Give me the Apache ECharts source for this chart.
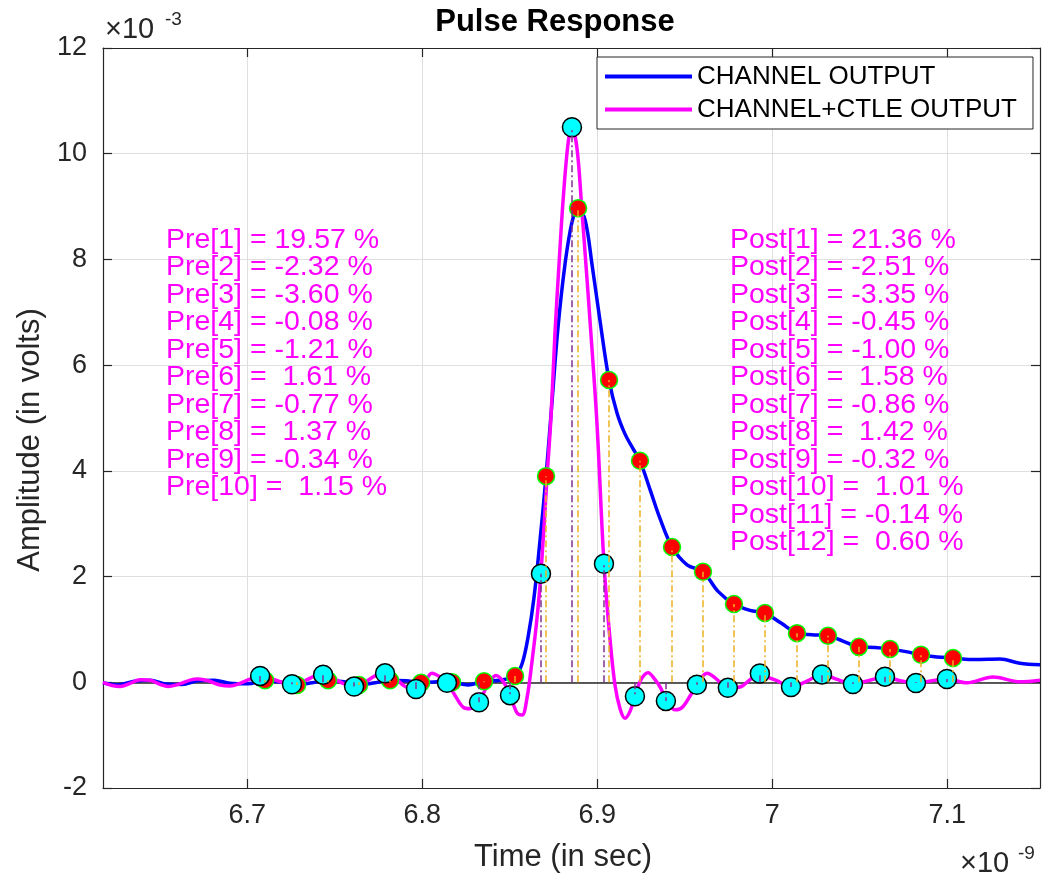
<!DOCTYPE html>
<html>
<head>
<meta charset="utf-8">
<script src="https://cdn.jsdelivr.net/npm/echarts@6/dist/echarts.min.js"></script>
<style>
  html, body { margin: 0; padding: 0; background: #fff; }
  #chart { width: 1042px; height: 878px; }
</style>
</head>
<body>
<div id="chart"></div>
<script>
  // x in units of 1e-9 s, y in units of 1e-3 V
  const xMin = 6.6175;
  const xMax = 7.153;
  const xTickValues = [6.7, 6.8, 6.9, 7, 7.1];

  // CHANNEL OUTPUT (blue)
  const chanCurveX = [6.6175, 6.6261, 6.6353, 6.6444, 6.6535, 6.6627, 6.6718, 6.6810, 6.6901, 6.7004,
    6.7101, 6.7193, 6.7284, 6.7370, 6.7461, 6.7553, 6.7638, 6.7730, 6.7815, 6.7907,
    6.7993, 6.8084, 6.8170, 6.8261, 6.8353, 6.8444, 6.8530, 6.8570, 6.8604, 6.8638,
    6.8673, 6.8707, 6.8741, 6.8775, 6.8815, 6.8855, 6.8890, 6.8930, 6.8970, 6.9015,
    6.9067, 6.9113, 6.9158, 6.9204, 6.9244, 6.9301, 6.9358, 6.9427, 6.9513, 6.9604,
    6.9690, 6.9781, 6.9873, 6.9958, 7.0050, 7.0141, 7.0227, 7.0318, 7.0404, 7.0495,
    7.0587, 7.0673, 7.0764, 7.0850, 7.0941, 7.1033, 7.1158, 7.1301, 7.1415, 7.1530];
  const chanCurveY = [-0.01, -0.05, 0.02, 0.04, -0.03, -0.04, 0.03, 0.04, -0.02, -0.03,
    0.04, 0.00, -0.05, -0.01, 0.04, 0.01, -0.05, -0.01, 0.04, 0.03,
    -0.01, 0.01, 0.00, -0.05, 0.02, 0.04, 0.12, 0.35, 0.85, 1.6,
    2.7, 3.9, 5.3, 6.7, 7.9, 8.7, 8.97, 8.75, 7.9, 6.85,
    5.72, 5.09, 4.7, 4.42, 4.19, 3.65, 3.1, 2.56, 2.22, 2.09,
    1.72, 1.48, 1.36, 1.31, 1.12, 0.93, 0.90, 0.88, 0.78, 0.67,
    0.66, 0.63, 0.58, 0.52, 0.48, 0.46, 0.43, 0.44, 0.36, 0.33];

  // CHANNEL+CTLE OUTPUT (magenta)
  const ctleCurveX = [6.6175, 6.6227, 6.6273, 6.6330, 6.6387, 6.6444, 6.6501, 6.6547, 6.6604, 6.6673,
    6.6718, 6.6775, 6.6844, 6.6901, 6.6958, 6.7015, 6.7073, 6.7130, 6.7187, 6.7255,
    6.7330, 6.7387, 6.7433, 6.7490, 6.7547, 6.7610, 6.7667, 6.7730, 6.7787, 6.7844,
    6.7901, 6.7964, 6.8010, 6.8055, 6.8101, 6.8141, 6.8187, 6.8233, 6.8273, 6.8324,
    6.8376, 6.8421, 6.8461, 6.8501, 6.8541, 6.8570, 6.8598, 6.8627, 6.8655, 6.8678,
    6.8713, 6.8735, 6.8758, 6.8781, 6.8804, 6.8833, 6.8855, 6.8884, 6.8912, 6.8935,
    6.8958, 6.8998, 6.9038, 6.9073, 6.9101, 6.9130, 6.9158, 6.9187, 6.9215, 6.9250,
    6.9290, 6.9330, 6.9364, 6.9392, 6.9444, 6.9484, 6.9530, 6.9569, 6.9627, 6.9678,
    6.9746, 6.9815, 6.9873, 6.9929, 6.9987, 7.0027, 7.0107, 7.0198, 7.0284, 7.0375,
    7.0461, 7.0558, 7.0644, 7.0730, 7.0821, 7.0913, 7.0998, 7.1113, 7.1261, 7.1415, 7.1530];
  const ctleCurveY = [0.00, -0.06, -0.08, -0.02, 0.05, 0.04, -0.04, -0.08, -0.04, 0.04,
    0.06, 0.03, -0.05, -0.07, -0.02, 0.06, 0.12, 0.08, 0.01, -0.04,
    0.03, 0.12, 0.14, 0.08, -0.02, -0.08, -0.01, 0.12, 0.17, 0.08,
    -0.08, -0.13, -0.02, 0.17, 0.10, -0.01, -0.25, -0.47, -0.50, -0.37,
    -0.03, 0.13, 0.02, -0.24, -0.58, -0.62, -0.3, 0.4, 1.2, 2.06,
    3.9, 5.0, 6.6, 7.9, 9.1, 10.2, 10.5, 10.1, 8.93, 7.9,
    6.85, 4.9, 2.25, 0.8, -0.05, -0.5, -0.68, -0.55, -0.26, 0.05,
    0.18, 0.05, -0.12, -0.34, -0.52, -0.48, -0.26, -0.05, 0.17, 0.07,
    -0.11, -0.09, 0.05, 0.17, 0.08, 0.03, -0.09, 0.02, 0.15, 0.05,
    -0.03, 0.04, 0.10, 0.03, -0.02, 0.03, 0.06, -0.01, 0.10, 0.01, 0.04];

  // sampled cursors, channel (red markers)
  const chanSampleX = [6.7101, 6.7284, 6.7461, 6.7638, 6.7815, 6.7993, 6.8170, 6.8353, 6.8530, 6.8707,
    6.8890, 6.9067, 6.9244, 6.9427, 6.9604, 6.9781, 6.9958, 7.0141, 7.0318, 7.0495,
    7.0673, 7.0850, 7.1033];
  const chanSampleY = [0.04, -0.05, 0.04, -0.05, 0.04, -0.01, 0.00, 0.02, 0.12, 3.90,
    8.97, 5.72, 4.19, 2.56, 2.09, 1.48, 1.31, 0.93, 0.88, 0.67,
    0.63, 0.52, 0.46];

  // sampled cursors, channel+CTLE (cyan markers)
  const ctleSampleX = [6.7073, 6.7255, 6.7433, 6.7610, 6.7787, 6.7964, 6.8141, 6.8324, 6.8501, 6.8678,
    6.8855, 6.9038, 6.9215, 6.9392, 6.9569, 6.9746, 6.9929, 7.0107, 7.0284, 7.0461,
    7.0644, 7.0821, 7.0998];
  const ctleSampleY = [0.121, -0.036, 0.144, -0.081, 0.169, -0.127, -0.008, -0.378, -0.244, 2.055,
    10.50, 2.243, -0.264, -0.352, -0.047, -0.105, 0.166, -0.090, 0.149, -0.034,
    0.106, -0.015, 0.063];

  const prePct = [19.57, -2.32, -3.60, -0.08, -1.21, 1.61, -0.77, 1.37, -0.34, 1.15];
  const postPct = [21.36, -2.51, -3.35, -0.45, -1.00, 1.58, -0.86, 1.42, -0.32, 1.01, -0.14, 0.60];

  const FONT = 'Liberation Sans, Arial, Helvetica, sans-serif';
  const AXIS_COLOR = '#262626';

  function pairs(xs, ys) {
    return xs.map((x, i) => [x, ys[i]]);
  }
  function stems(xs, ys) {
    return xs.map((x, i) => ({ coords: [[x, 0], [x, ys[i]]] }));
  }
  function pctLines(prefix, arr) {
    return arr.map((v, i) => prefix + '[' + (i + 1) + '] = ' + v.toFixed(2).padStart(5, ' ') + ' %').join('\n');
  }

  const chart = echarts.init(document.getElementById('chart'));

  const baseX = {
    type: 'value',
    min: xMin,
    max: xMax,
    axisLine: { show: true, onZero: false, lineStyle: { color: AXIS_COLOR, width: 1.2 } },
    axisTick: { show: true, inside: true, length: 9, customValues: xTickValues, lineStyle: { color: AXIS_COLOR, width: 1.2 } },
  };
  const baseY = {
    type: 'value',
    min: -2,
    max: 12,
    interval: 2,
    axisLine: { show: true, onZero: false, lineStyle: { color: AXIS_COLOR, width: 1.2 } },
    axisTick: { show: true, inside: true, length: 9, lineStyle: { color: AXIS_COLOR, width: 1.2 } },
  };

  const option = {
    animation: false,
    backgroundColor: '#fff',
    grid: { left: 103, right: 2, top: 48, bottom: 90, containLabel: false },
    legend: {
      data: ['CHANNEL OUTPUT', 'CHANNEL+CTLE OUTPUT'],
      orient: 'vertical',
      left: 597,
      top: 57,
      padding: [4, 16, 4, 8],
      itemWidth: 87,
      itemHeight: 4,
      itemGap: 2,
      icon: 'rect',
      borderColor: AXIS_COLOR,
      borderWidth: 1,
      backgroundColor: '#fff',
      textStyle: { fontSize: 26, color: '#000', fontFamily: FONT, lineHeight: 31 },
    },
    xAxis: [
      Object.assign({}, baseX, {
        position: 'bottom',
        axisLabel: { show: true, customValues: xTickValues, margin: 14, fontSize: 27, color: AXIS_COLOR, fontFamily: FONT },
        splitLine: { show: true, lineStyle: { color: '#dfdfdf', width: 1 } },
      }),
      Object.assign({}, baseX, {
        position: 'top',
        axisLabel: { show: false },
        splitLine: { show: false },
      }),
    ],
    yAxis: [
      Object.assign({}, baseY, {
        position: 'left',
        axisLabel: { show: true, margin: 16, fontSize: 27, color: AXIS_COLOR, fontFamily: FONT },
        splitLine: { show: true, lineStyle: { color: '#dfdfdf', width: 1 } },
      }),
      Object.assign({}, baseY, {
        position: 'right',
        axisLabel: { show: false },
        splitLine: { show: false },
      }),
    ],
    series: [
      {
        name: 'baseline',
        type: 'lines',
        coordinateSystem: 'cartesian2d',
        z: 2,
        silent: true,
        lineStyle: { color: AXIS_COLOR, width: 1.5, opacity: 1 },
        data: [{ coords: [[xMin, 0], [xMax, 0]] }],
      },
      {
        name: 'CHANNEL OUTPUT',
        type: 'line',
        z: 3,
        color: '#0000ff',
        showSymbol: false,
        smooth: 0.35,
        lineStyle: { width: 3.5 },
        data: pairs(chanCurveX, chanCurveY),
      },
      {
        name: 'CHANNEL+CTLE OUTPUT',
        type: 'line',
        z: 4,
        color: '#ff00ff',
        showSymbol: false,
        smooth: 0.35,
        lineStyle: { width: 3.5 },
        data: pairs(ctleCurveX, ctleCurveY),
      },
      {
        name: 'chanSamples',
        type: 'scatter',
        z: 5,
        symbolSize: 17,
        itemStyle: { color: '#ff0000', borderColor: '#00ff00', borderWidth: 1.5, opacity: 1 },
        data: pairs(chanSampleX, chanSampleY),
      },
      {
        name: 'ctleSamples',
        type: 'scatter',
        z: 6,
        symbolSize: 19,
        itemStyle: { color: '#00ffff', borderColor: '#000', borderWidth: 1.5, opacity: 1 },
        data: pairs(ctleSampleX, ctleSampleY),
      },
      {
        name: 'ctleStems',
        type: 'lines',
        coordinateSystem: 'cartesian2d',
        z: 7,
        silent: true,
        lineStyle: { color: '#7e2f8e', width: 1.5, type: [7, 3, 2, 3], opacity: 1 },
        data: stems(ctleSampleX, ctleSampleY),
      },
      {
        name: 'chanStems',
        type: 'lines',
        coordinateSystem: 'cartesian2d',
        z: 7,
        silent: true,
        lineStyle: { color: '#edb120', width: 1.5, type: [7, 3, 2, 3], opacity: 1 },
        data: stems(chanSampleX, chanSampleY),
      },
    ],
    graphic: [
      {
        type: 'text', z: 100,
        style: { x: 555, y: 22, text: 'Pulse Response', align: 'center', verticalAlign: 'middle',
          font: 'bold 31px ' + FONT, fill: '#000' },
      },
      {
        type: 'text', z: 100,
        style: { x: 563, y: 857, text: 'Time (in sec)', align: 'center', verticalAlign: 'middle',
          font: '31px ' + FONT, fill: AXIS_COLOR },
      },
      {
        type: 'text', z: 100, x: 30, y: 440, rotation: Math.PI / 2,
        style: { x: 0, y: 0, text: 'Amplitude (in volts)', align: 'center', verticalAlign: 'middle',
          font: '31px ' + FONT, fill: AXIS_COLOR },
      },
      {
        type: 'text', z: 100,
        style: { x: 105, y: 30, text: '×10', align: 'left', verticalAlign: 'middle',
          font: '29px ' + FONT, fill: AXIS_COLOR },
      },
      {
        type: 'text', z: 100,
        style: { x: 165, y: 20, text: '-3', align: 'left', verticalAlign: 'middle',
          font: '19px ' + FONT, fill: AXIS_COLOR },
      },
      {
        type: 'text', z: 100,
        style: { x: 960, y: 864, text: '×10', align: 'left', verticalAlign: 'middle',
          font: '29px ' + FONT, fill: AXIS_COLOR },
      },
      {
        type: 'text', z: 100,
        style: { x: 1018, y: 854, text: '-9', align: 'left', verticalAlign: 'middle',
          font: '19px ' + FONT, fill: AXIS_COLOR },
      },
      {
        type: 'text', z: 100,
        style: { x: 166, y: 226, text: pctLines('Pre', prePct), align: 'left', verticalAlign: 'top',
          font: '28.5px ' + FONT, lineHeight: 27.5, fill: '#ff00ff' },
      },
      {
        type: 'text', z: 100,
        style: { x: 730, y: 226, text: pctLines('Post', postPct), align: 'left', verticalAlign: 'top',
          font: '28.5px ' + FONT, lineHeight: 27.5, fill: '#ff00ff' },
      },
    ],
  };

  chart.setOption(option);
</script>
</body>
</html>
